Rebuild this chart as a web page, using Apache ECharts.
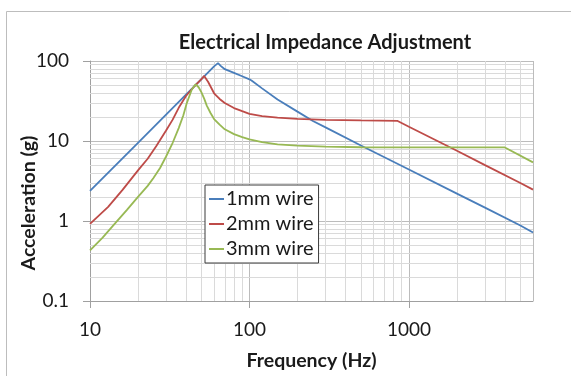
<!DOCTYPE html>
<html>
<head>
<meta charset="utf-8">
<script src="https://cdn.jsdelivr.net/npm/echarts@6/dist/echarts.min.js"></script>
<style>html,body{margin:0;padding:0;background:#fff;}#c{width:571px;height:376px;}</style>
</head>
<body>
<div id="c"></div>
<script>
// Series data (frequency in Hz, acceleration in g)
const seriesNames = ['1mm wire', '2mm wire', '3mm wire'];
const freq1 = [10, 20, 30, 40, 50, 60, 63.5, 66, 70, 80, 90, 100, 103, 120, 150, 200, 250, 300, 500, 1000, 2000, 3000, 5000, 6000];
const acc1  = [2.38, 9.5, 21.4, 38, 59.5, 85.7, 94, 87, 79, 71, 64.5, 59, 57, 45.5, 33, 23.3, 17.8, 14.8, 8.8, 4.4, 2.2, 1.47, 0.88, 0.72];
const freq2 = [10, 13, 16, 20, 23, 26, 30, 33, 36, 40, 45, 50, 52, 55, 58, 60, 65, 70, 80, 90, 100, 120, 150, 200, 300, 500, 850, 1000, 2000, 3000, 5000, 6000];
const acc2  = [0.92, 1.5, 2.45, 4.3, 6.0, 8.6, 13.5, 18.5, 26, 36.5, 48, 59.5, 65, 55, 45, 39.5, 33.5, 29.8, 25.8, 23.6, 21.8, 20.5, 19.6, 18.9, 18.4, 18.1, 17.8, 15.1, 7.55, 5.0, 2.98, 2.47];
const freq3 = [10, 12, 14, 17, 20, 23, 25, 27.5, 30, 33, 36, 38.5, 40.5, 43.5, 46, 48, 50, 52, 54, 57, 60, 65, 70, 80, 90, 100, 120, 150, 200, 300, 500, 1000, 2000, 4000, 6000];
const acc3  = [0.43, 0.62, 0.88, 1.37, 2.0, 2.75, 3.45, 4.6, 6.4, 9.5, 14.5, 21, 30, 44, 51, 47, 40.5, 33.8, 27.7, 22.4, 18.8, 16, 14.0, 12.2, 11.2, 10.5, 9.7, 9.1, 8.75, 8.5, 8.35, 8.3, 8.3, 8.3, 5.4];
// Axis ranges and tick labels
const xMin = 10, xMax = 6000;
const yMin = 0.1, yMax = 100;
const xTickLabels = [10, 100, 1000];
const yTickLabels = [0.1, 1, 10, 100];
// Minor gridline values
const xMinor = [20,30,40,50,60,70,80,90,200,300,400,500,600,700,800,900,2000,3000,4000,5000];
const yMinor = [0.2,0.3,0.4,0.5,0.6,0.7,0.8,0.9,2,3,4,5,6,7,8,9,20,30,40,50,60,70,80,90];

const colors = ['#4a7ebb', '#be4b48', '#98b954'];
const FONT = 'Lato';

function pairs(xs, ys) { return xs.map((x, i) => [x, ys[i]]); }
const dataSets = [pairs(freq1, acc1), pairs(freq2, acc2), pairs(freq3, acc3)];

const minorLines = xMinor.map(v => ({ xAxis: v })).concat(yMinor.map(v => ({ yAxis: v })));

const chart = echarts.init(document.getElementById('c'), null, { renderer: 'canvas' });
chart.setOption({
  animation: false,
  backgroundColor: '#ffffff',
  graphic: [{
    type: 'rect', silent: true, z: -10,
    shape: { x: 6.5, y: 11.5, width: 800, height: 600 },
    style: { fill: 'none', stroke: '#bdbdbd', lineWidth: 1 }
  }, {
    type: 'text', silent: true,
    x: 29, y: 203, rotation: Math.PI / 2,
    style: {
      text: 'Acceleration (g)', align: 'center', verticalAlign: 'middle',
      fontFamily: FONT, fontWeight: 'bold', fontSize: 19.5, fill: '#1a1a1a'
    }
  }],
  title: {
    text: 'Electrical Impedance Adjustment',
    left: 320, top: 28, textAlign: 'center',
    textStyle: { fontFamily: FONT, fontWeight: 'bold', fontSize: 20, color: '#1a1a1a' }
  },
  legend: {
    data: seriesNames,
    orient: 'vertical',
    left: 205, top: 185,
    padding: [3, 5, 3, 4],
    itemGap: 3,
    itemWidth: 15, itemHeight: 2,
    icon: 'rect',
    borderColor: '#3a3a3a', borderWidth: 1,
    backgroundColor: '#ffffff',
    textStyle: { fontFamily: FONT, fontSize: 20, color: '#1a1a1a', lineHeight: 22, padding: [0, 0, 0, -3] }
  },
  grid: { left: 90, top: 61, right: 38, bottom: 71, containLabel: false },
  xAxis: {
    type: 'log', logBase: 10, min: xMin, max: xMax,
    name: 'Frequency (Hz)', nameLocation: 'middle', nameGap: 50,
    nameTextStyle: { fontFamily: FONT, fontWeight: 'bold', fontSize: 19.5, color: '#1a1a1a' },
    axisLine: { show: true, lineStyle: { color: '#a0a0a0', width: 1 } },
    axisTick: { show: true, inside: false, length: 7, lineStyle: { color: '#a0a0a0' } },
    axisLabel: {
      margin: 19, fontFamily: FONT, fontSize: 19, color: '#1a1a1a',
      showMaxLabel: false,
      formatter: v => (xTickLabels.some(t => Math.abs(t - v) / t < 1e-6) ? String(v) : '')
    },
    splitLine: { show: true, lineStyle: { color: '#bcbcbc', width: 1 } },
    minorTick: { show: false }, minorSplitLine: { show: false }
  },
  yAxis: {
    type: 'log', logBase: 10, min: yMin, max: yMax,
    axisLine: { show: true, lineStyle: { color: '#a0a0a0', width: 1 } },
    axisTick: { show: true, inside: false, length: 7, lineStyle: { color: '#a0a0a0' } },
    axisLabel: {
      margin: 21, fontFamily: FONT, fontSize: 19, color: '#1a1a1a',
      formatter: v => {
        const t = yTickLabels.find(t => Math.abs(t - v) / t < 1e-6);
        return t === undefined ? '' : String(t);
      }
    },
    splitLine: { show: true, lineStyle: { color: '#bcbcbc', width: 1 } }
  },
  series: [
    {
      name: 'minor-grid', type: 'line', data: [], z: 1, silent: true,
      markLine: {
        z: 1,
        silent: true, symbol: ['none', 'none'], animation: false,
        label: { show: false },
        emphasis: { disabled: true },
        lineStyle: { color: '#dadada', width: 1, type: 'solid' },
        data: minorLines
      }
    }
  ].concat(dataSets.map((d, i) => ({
    name: seriesNames[i], type: 'line', data: d, z: 3,
    showSymbol: false, symbol: 'none', smooth: false,
    lineStyle: { color: colors[i], width: 1.8 },
    itemStyle: { color: colors[i] },
    emphasis: { disabled: true }
  })))
});
</script>
</body>
</html>
